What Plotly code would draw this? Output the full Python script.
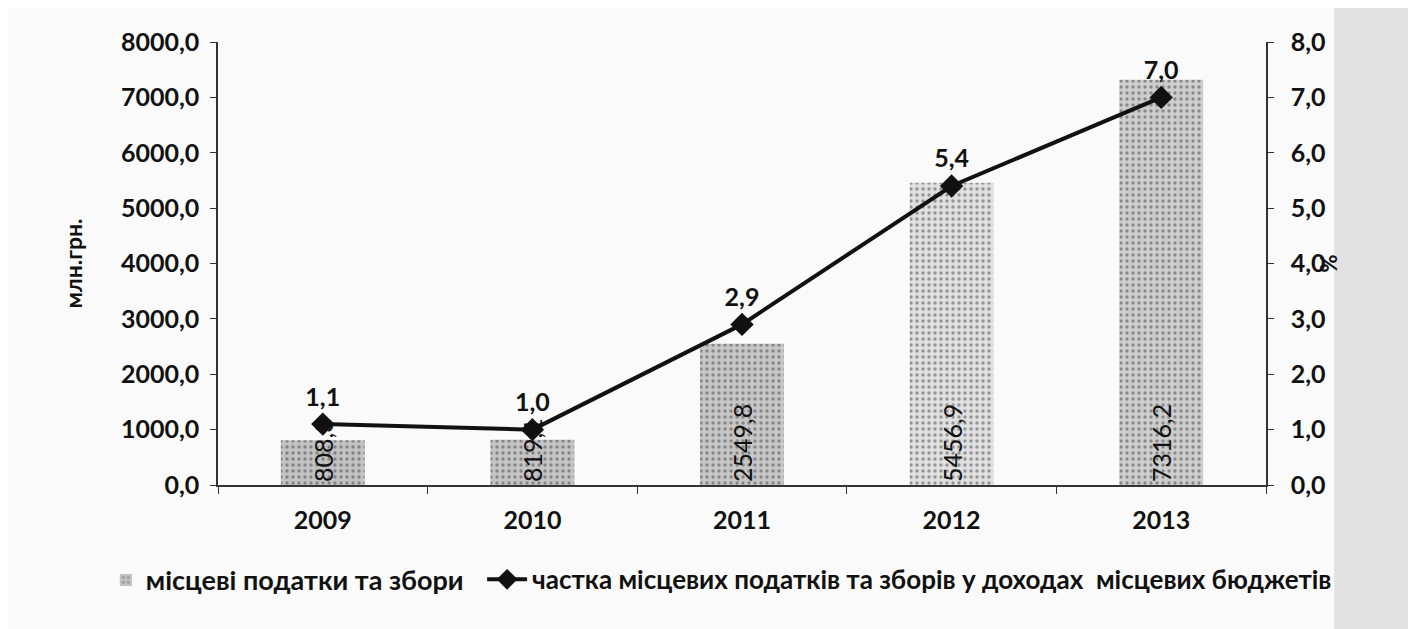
import plotly.graph_objects as go

years = ["2009", "2010", "2011", "2012", "2013"]
taxes = [808.3, 819.1, 2549.8, 5456.9, 7316.2]
tax_labels = ["808,3", "819,1", "2549,8", "5456,9", "7316,2"]
share = [1.1, 1.0, 2.9, 5.4, 7.0]
share_labels = ["1,1", "1,0", "2,9", "5,4", "7,0"]
bar_colors = ["#c2c2c2", "#c4c4c4", "#c6c6c6", "#e0e0e0", "#cdcdcd"]

FONT = "Lato"
fig = go.Figure()

fig.add_trace(go.Bar(
    x=years, y=taxes, name="місцеві податки та збори",
    marker=dict(color=bar_colors, line=dict(width=0),
                pattern=dict(shape=".", fgcolor="#707070", bgcolor=bar_colors, size=6, solidity=0.25)),
    width=0.4,
    text=tax_labels, textposition="inside", insidetextanchor="start",
    textangle=-90, constraintext="none",
    textfont=dict(family=FONT, size=25, color="#111", weight="normal"),
    yaxis="y", legend="legend",
))

fig.add_trace(go.Scatter(
    x=years, y=share, name="частка місцевих податків та зборів у доходах  місцевих бюджетів",
    mode="lines+markers+text",
    line=dict(color="#111", width=4),
    marker=dict(symbol="diamond", size=18, color="#111"),
    text=share_labels, textposition="top center",
    textfont=dict(family=FONT, size=25, color="#111", weight="bold"),
    yaxis="y2", cliponaxis=False, legend="legend2",
))

fig.add_shape(type="rect", xref="paper", yref="paper", x0=-0.21, x1=1.065, y0=-0.36, y1=1.1,
              fillcolor="#fafafa", line=dict(width=0), layer="below")

fig.update_layout(
    width=1416, height=629,
    margin=dict(l=210, r=158, t=34, b=152),
    paper_bgcolor="#e2e2e2", plot_bgcolor="rgba(0,0,0,0)",
    separators=", ",
    font=dict(family=FONT, size=25, color="#111", weight="bold"),
    showlegend=True,
    legend=dict(orientation="h", x=-0.107, xanchor="left", y=-0.16, yanchor="top",
                font=dict(size=27, family=FONT, weight="bold"), bgcolor="rgba(0,0,0,0)",
                itemwidth=30),
    legend2=dict(orientation="h", x=0.252, xanchor="left", y=-0.16, yanchor="top",
                 font=dict(size=26, family=FONT, weight="bold"), bgcolor="rgba(0,0,0,0)",
                 itemwidth=40),
    xaxis=dict(type="category", tickson="boundaries", ticks="outside", ticklen=7,
               tickcolor="#333", showline=True, linecolor="#333", linewidth=1.5,
               showgrid=False, tickfont=dict(size=25, family=FONT, weight="bold"),
               ticklabelstandoff=12),
    yaxis=dict(range=[0, 8000], dtick=1000, tickformat=".1f", ticks="outside", ticklen=6,
               tickcolor="#333", showline=True, linecolor="#333", linewidth=1.5,
               showgrid=False, zeroline=False, tickfont=dict(size=25, family=FONT, weight="bold"),
               ticklabelstandoff=6,
               title=dict(text="млн.грн.", font=dict(size=23, family=FONT, weight="bold"), standoff=32)),
    yaxis2=dict(range=[0, 8], dtick=1, tickformat=".1f", overlaying="y", side="right",
                ticks="outside", ticklen=6, tickcolor="#333", showline=True, linecolor="#333",
                linewidth=1.5, showgrid=False, zeroline=False,
                tickfont=dict(size=25, family=FONT, weight="bold"), ticklabelstandoff=12),
)

fig.add_annotation(text="%", xref="paper", yref="paper", x=1.074, y=0.5, showarrow=False,
                   font=dict(size=22, family=FONT, weight="bold"), textangle=-90)

fig.write_html("out.html")
